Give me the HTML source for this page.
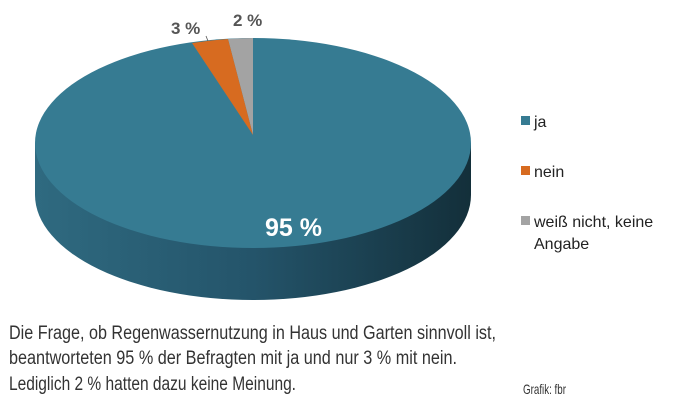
<!DOCTYPE html>
<html><head><meta charset="utf-8"><style>html,body{margin:0;padding:0;background:#fff}svg{display:block}</style></head>
<body>
<svg width="683" height="405" viewBox="0 0 683 405" xmlns="http://www.w3.org/2000/svg" font-family="Liberation Sans, sans-serif">
<defs>
<linearGradient id="side" x1="0" x2="1" y1="0" y2="0">
<stop offset="0" stop-color="#2f6a80"/>
<stop offset="0.5" stop-color="#24546a"/>
<stop offset="1" stop-color="#132f3a"/>
</linearGradient>
</defs>
<path d="M35,143 L35,195 A218,105 0 0 0 471,195 L471,143 Z" fill="url(#side)"/>
<ellipse cx="253" cy="143" rx="218" ry="105" fill="#367b92"/>
<path d="M253,135 L253,38 A218,105 0 0 0 228,39 Z" fill="#a3a3a3"/>
<path d="M253,135 L228,39 A218,105 0 0 0 192,43 Z" fill="#d76b20"/>
<line x1="206" y1="36" x2="208" y2="41" stroke="#555" stroke-width="0.8"/>
<text x="171" y="34" font-size="17" font-weight="bold" fill="#555">3 %</text>
<text x="233" y="26" font-size="17" font-weight="bold" fill="#555">2 %</text>
<text x="265" y="236" font-size="25" font-weight="bold" fill="#fff">95 %</text>
<rect x="521" y="116" width="9" height="9" fill="#367b92"/>
<rect x="521" y="166" width="9" height="9" fill="#d76b20"/>
<rect x="521" y="216" width="9" height="9" fill="#a3a3a3"/>
<g font-size="16" fill="#222">
<text x="534" y="127">ja</text>
<text x="534" y="177">nein</text>
<text x="534" y="227">weiß nicht, keine</text>
<text x="534" y="249">Angabe</text>
</g>
<g font-size="19" fill="#333">
<text x="9" y="339" textLength="487" lengthAdjust="spacingAndGlyphs">Die Frage, ob Regenwassernutzung in Haus und Garten sinnvoll ist,</text>
<text x="9" y="364" textLength="448" lengthAdjust="spacingAndGlyphs">beantworteten 95 % der Befragten mit ja und nur 3 % mit nein.</text>
<text x="9" y="390" textLength="287" lengthAdjust="spacingAndGlyphs">Lediglich 2 % hatten dazu keine Meinung.</text>
</g>
<text x="523" y="394" font-size="14" fill="#333" textLength="43" lengthAdjust="spacingAndGlyphs">Grafik: fbr</text>
</svg>
</body></html>
